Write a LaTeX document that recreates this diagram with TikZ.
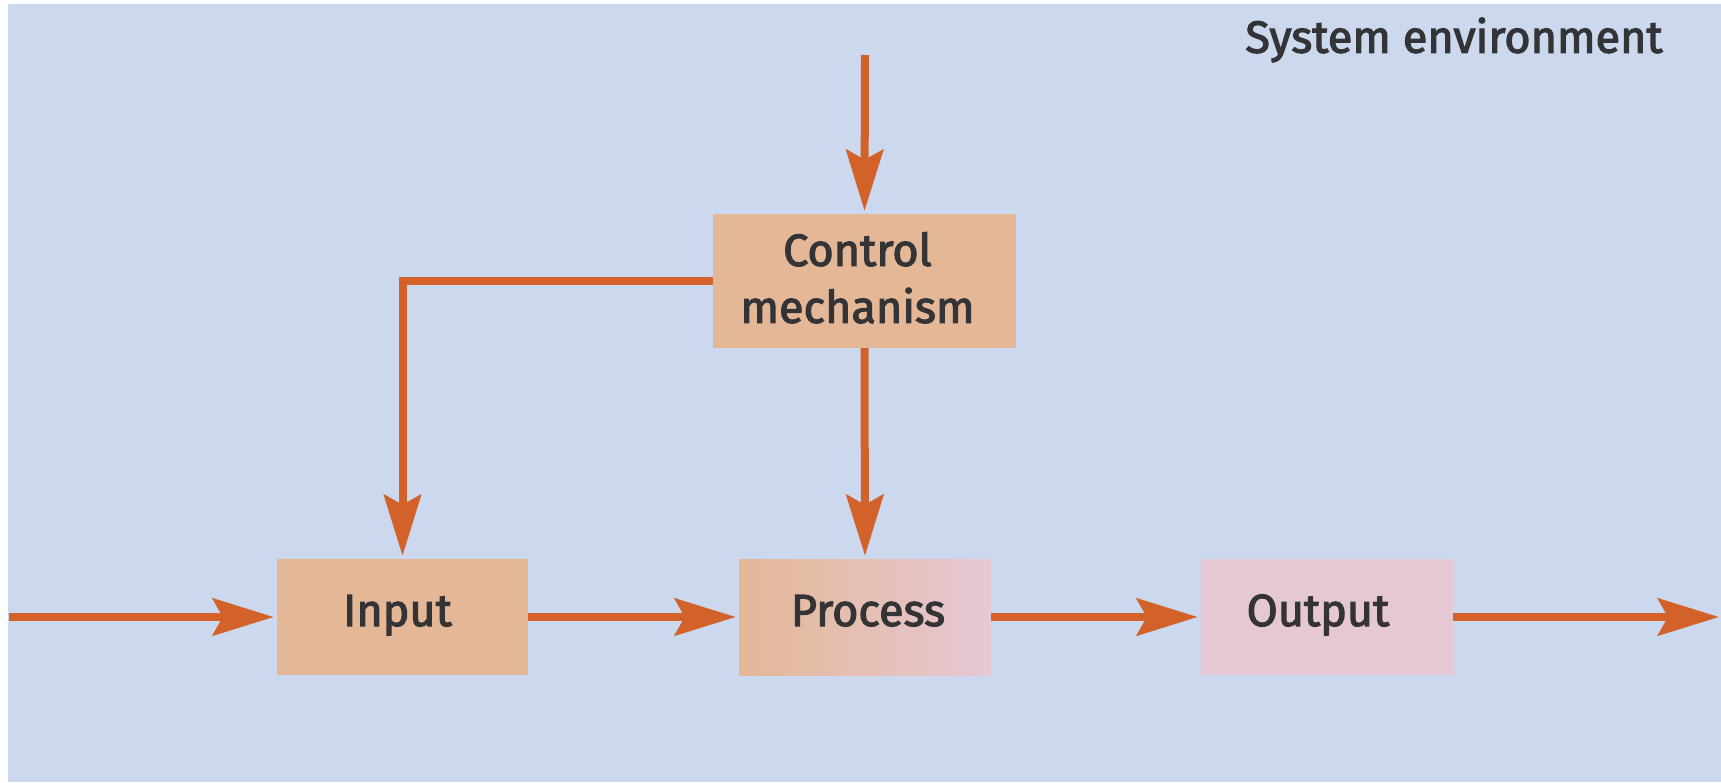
\documentclass[tikz,border=0pt]{standalone}
\usepackage{fontspec}
\setmainfont{Fira Sans}[FakeBold=2.5]
\usetikzlibrary{arrows.meta}

\definecolor{envblue}{RGB}{203,216,238}
\definecolor{boxorange}{RGB}{228,183,150}
\definecolor{boxpink}{RGB}{230,200,212}
\definecolor{flow}{RGB}{210,98,42}
\definecolor{ink}{RGB}{52,52,54}

\newcommand{\labelfont}{\fontsize{45}{57}\selectfont\addfontfeatures{FakeBold=2.5}}
% shift a label sideways inside its box by #1
\newcommand{\nudge}[2]{\hspace*{#1}#2\hspace*{-#1}}

\tikzset{
  stagebox/.style={rectangle, inner sep=0pt, minimum width=251pt, minimum height=116pt,
    text=ink, font=\labelfont, text height=32pt, text depth=14pt},
  flowarrow/.style={draw=flow, line width=8pt, line join=miter,
    -{Stealth[length=61pt, width=37pt, inset=10pt]}, shorten >=3pt}
}

\begin{document}
\begin{tikzpicture}[x=1pt, y=-1pt]
  % page frame and environment background
  \useasboundingbox (0,0) rectangle (1721,782);
  \fill[white] (0,0) rectangle (1721,782);
  \fill[envblue] (8,4) rectangle (1721,782);

  \node[anchor=base, text=ink, font=\labelfont, inner sep=0pt]
    (envlabel) at (1454,52.7) {System environment};

  % stages
  \node[stagebox, fill=boxorange] (input) at (402.5,617) {\nudge{-5pt}{Input}};
  \node[stagebox, left color=boxorange, right color=boxpink, minimum width=252pt]
    (process) at (865,617) {\nudge{3pt}{Process}};
  \node[stagebox, fill=boxpink, minimum width=252pt] (output) at (1327,617) {\nudge{-9pt}{Output}};
  \node[stagebox, fill=boxorange, minimum width=303pt, minimum height=134pt, align=center,
    text height=, text depth=7pt]
    (control) at (864.5,281) {\nudge{-7pt}{Control}\\\nudge{-7pt}{mechanism}};

  % free ends of the flow
  \coordinate (srcleft) at (9,617);
  \coordinate (sinkright) at (1722,617);
  \coordinate (srctop) at (865,55);

  % connectors
  \draw[flowarrow] (srcleft) -- (input.west);
  \draw[flowarrow] (input.east) -- (process.west);
  \draw[flowarrow] (process.east) -- (output.west);
  \draw[flowarrow] (output.east) -- (sinkright);
  \draw[flowarrow] (srctop) -- (control.north);
  \draw[flowarrow] (control.south) -- (process.north);
  \draw[flowarrow] (control.west) -| (input.north);
\end{tikzpicture}
\end{document}
